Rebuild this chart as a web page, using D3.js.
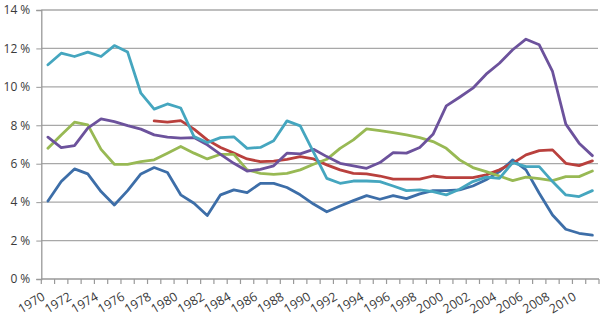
<!DOCTYPE html>
<html><head><meta charset="utf-8">
<script src="https://cdn.jsdelivr.net/npm/d3@7"></script>
<style>
html,body{margin:0;padding:0;background:#fff;}
svg text{font-family:"Open Sans",sans-serif;fill:#3a3a3a;}
</style></head>
<body><svg id="chart" width="600" height="325"></svg>
<script>
const years = d3.range(1970, 2012);
const yTicks = [0, 2, 4, 6, 8, 10, 12, 14];
const xLabelYears = years.filter(y => y % 2 === 0);

const blue = [4.06,5.07,5.73,5.47,4.55,3.85,4.6,5.47,5.8,5.54,4.38,3.94,3.3,4.38,4.64,4.5,4.98,4.98,4.76,4.38,3.9,3.5,3.8,4.08,4.34,4.15,4.34,4.18,4.43,4.6,4.6,4.64,4.84,5.16,5.59,6.2,5.68,4.46,3.33,2.59,2.38,2.28];
const red = [null,null,null,null,null,null,null,null,8.23,8.16,8.24,7.8,7.24,6.84,6.55,6.25,6.11,6.13,6.23,6.37,6.25,5.94,5.68,5.5,5.47,5.36,5.2,5.2,5.2,5.36,5.28,5.28,5.28,5.42,5.68,6.02,6.46,6.68,6.72,6.02,5.9,6.15];
const green = [6.8,7.5,8.16,8.02,6.75,5.97,5.97,6.11,6.2,6.55,6.9,6.55,6.25,6.49,6.49,5.68,5.5,5.45,5.5,5.68,5.97,6.23,6.8,7.24,7.81,7.72,7.62,7.5,7.36,7.15,6.8,6.2,5.8,5.59,5.36,5.12,5.3,5.22,5.12,5.33,5.33,5.62];
const purple = [7.38,6.84,6.94,7.85,8.33,8.19,7.98,7.8,7.5,7.38,7.33,7.36,6.98,6.49,6.02,5.62,5.71,5.89,6.55,6.51,6.75,6.37,6.02,5.89,5.76,6.06,6.58,6.55,6.84,7.53,9.01,9.46,9.93,10.66,11.23,11.93,12.48,12.19,10.8,8.06,7.07,6.42];
const teal = [11.15,11.75,11.58,11.81,11.58,12.15,11.81,9.67,8.84,9.11,8.9,7.41,7.1,7.36,7.4,6.8,6.85,7.2,8.23,7.97,6.6,5.24,4.98,5.1,5.1,5.07,4.84,4.6,4.64,4.55,4.38,4.67,5.07,5.3,5.24,6.06,5.85,5.85,5.07,4.375,4.29,4.6];

const series = [
  {name:"blue", color:"#3d6ea8", values:blue},
  {name:"red", color:"#b9403d", values:red},
  {name:"green", color:"#98b954", values:green},
  {name:"purple", color:"#6c529c", values:purple},
  {name:"teal", color:"#45a6bf", values:teal}
];

const svg = d3.select("#chart");
const plotLeft = 41.3, plotRight = 599, plotTop = 10, plotBottom = 279;

const x = d3.scaleBand().domain(years).range([plotLeft, plotRight]).padding(0);
const y = d3.scaleLinear().domain([0, 14]).range([plotBottom, plotTop]);

// gridlines
svg.append("g").selectAll("line").data(yTicks.filter(d => d > 0)).join("line")
  .attr("x1", plotLeft).attr("x2", 598)
  .attr("y1", d => y(d)).attr("y2", d => y(d))
  .attr("stroke", "#a8a8a8").attr("stroke-width", 1.3);

// y axis
const yAxis = d3.axisLeft(y).tickValues(yTicks).tickSize(5).tickPadding(6).tickFormat(d => d + " %");
const gy = svg.append("g").attr("transform", `translate(${plotLeft},0)`).call(yAxis);
gy.select(".domain").attr("stroke", "#999").attr("stroke-width", 1.3);
gy.selectAll(".tick line").attr("stroke", "#999");
gy.selectAll("text").style("font-size", "12px").attr("fill", "#3a3a3a");

// x axis line and band ticks
const gx = svg.append("g");
gx.append("line").attr("x1", plotLeft).attr("x2", plotRight).attr("y1", plotBottom).attr("y2", plotBottom)
  .attr("stroke", "#999").attr("stroke-width", 1.3);
const boundaries = years.map(yr => x(yr)).concat([x(years[years.length-1]) + x.bandwidth()]);
gx.selectAll("line.tk").data(boundaries).join("line").attr("class", "tk")
  .attr("x1", d => d).attr("x2", d => d).attr("y1", plotBottom).attr("y2", plotBottom + 5)
  .attr("stroke", "#999").attr("stroke-width", 1.2);
gx.selectAll("text").data(xLabelYears).join("text")
  .attr("transform", d => `translate(${x(d) + x.bandwidth()/2 - 2},${plotBottom + 20}) rotate(-31)`)
  .attr("text-anchor", "end")
  .style("font-size", "12.5px")
  .text(d => d);

// lines
const line = d3.line()
  .defined(d => d.v != null)
  .x(d => x(d.year) + x.bandwidth()/2)
  .y(d => y(d.v));

svg.append("g").selectAll("path").data(series).join("path")
  .attr("fill", "none")
  .attr("stroke", d => d.color)
  .attr("stroke-width", 2.8)
  .attr("stroke-linejoin", "round")
  .attr("stroke-linecap", "round")
  .attr("d", d => line(d.values.map((v, i) => ({year: years[i], v}))));
</script>
</body></html>
